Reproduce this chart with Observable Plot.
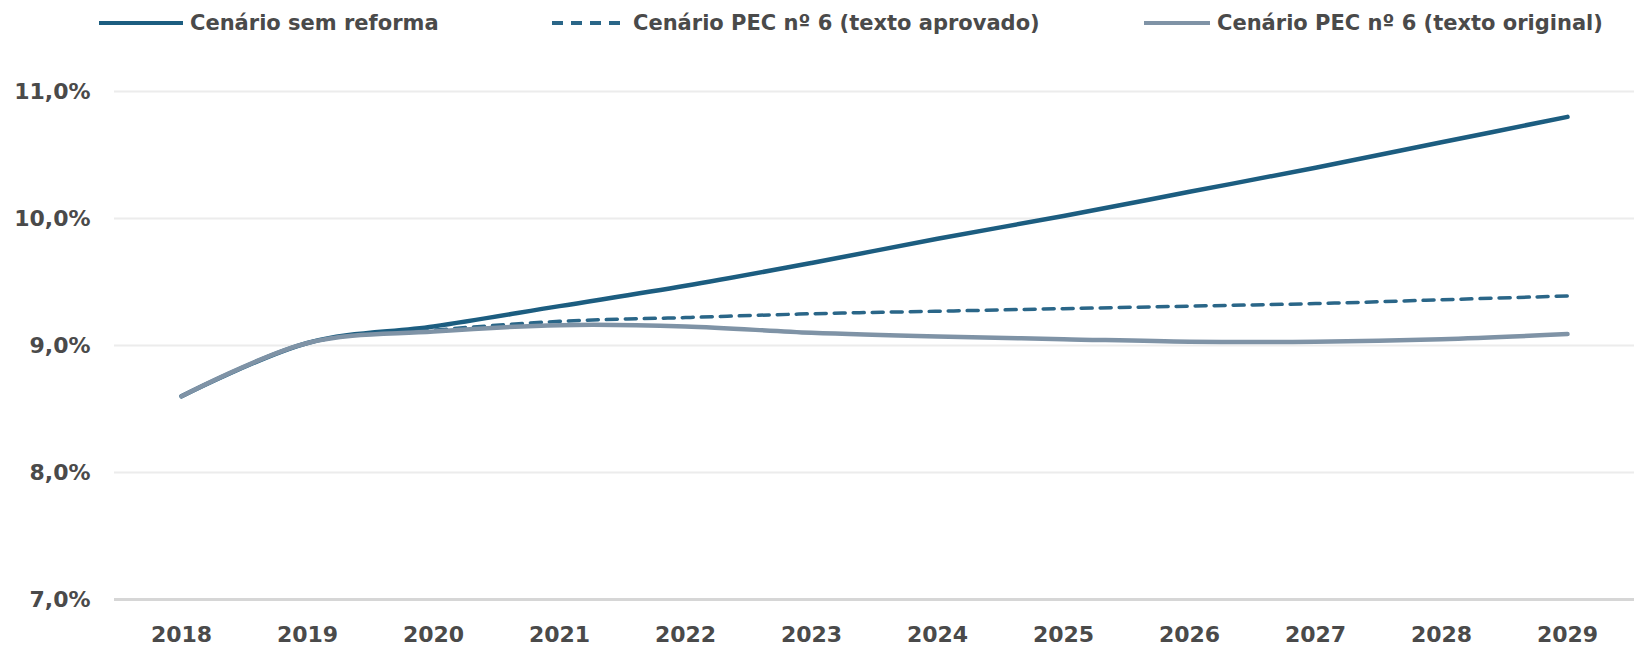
<!DOCTYPE html>
<html>
<head>
<meta charset="utf-8">
<script src="https://cdn.jsdelivr.net/npm/d3@7"></script>
<script src="https://cdn.jsdelivr.net/npm/@observablehq/plot@0.6"></script>
<style>
  html, body { margin: 0; padding: 0; background: #fff; }
  #wrap { width: 1634px; height: 649px; position: relative; overflow: hidden; }
  #legend { position: relative; height: 46px; width: 1634px; font-family: "DejaVu Sans", sans-serif; font-size: 21px; font-weight: bold; color: #4a4a4a; }
  .item { position: absolute; top: 11px; display: flex; align-items: center; white-space: nowrap; }
  .item svg { margin-right: 7px; }
</style>
</head>
<body>
<div id="wrap">
  <div id="legend"></div>
  <div id="chart"></div>
</div>
<script>
const years = ["2018","2019","2020","2021","2022","2023","2024","2025","2026","2027","2028","2029"];
const semReforma = [8.60, 9.02, 9.15, 9.31, 9.47, 9.65, 9.84, 10.02, 10.21, 10.40, 10.60, 10.80];
const pecAprovado = [8.60, 9.02, 9.12, 9.19, 9.22, 9.25, 9.27, 9.29, 9.31, 9.33, 9.36, 9.39];
const pecOriginal = [8.60, 9.02, 9.11, 9.16, 9.15, 9.10, 9.07, 9.05, 9.03, 9.03, 9.05, 9.09];
const yTicks = [7, 8, 9, 10, 11];
const seriesNames = ["Cenário sem reforma", "Cenário PEC nº 6 (texto aprovado)", "Cenário PEC nº 6 (texto original)"];

const colors = ["#1c5d80", "#2a6688", "#7f93a6"];
const dashes = [null, "11,8", null];
const legendLeft = [99, 552, 1144];
const legendLineW = [84, 74, 66];

const rows = (vals, s) => years.map((y, i) => ({year: y, value: vals[i], series: s}));
const dSem = rows(semReforma, seriesNames[0]);
const dAprov = rows(pecAprovado, seriesNames[1]);
const dOrig = rows(pecOriginal, seriesNames[2]);

// legend
const legend = document.getElementById("legend");
seriesNames.forEach((name, i) => {
  const item = document.createElement("div");
  item.className = "item";
  item.style.left = legendLeft[i] + "px";
  const w = legendLineW[i];
  item.innerHTML = `<svg width="${w}" height="10"><line x1="0" x2="${w}" y1="5" y2="5" stroke="${colors[i]}" stroke-width="4" ${dashes[i] ? `stroke-dasharray="${dashes[i]}"` : ""}/></svg><span>${name}</span>`;
  legend.appendChild(item);
});

const fmt = v => v.toFixed(1).replace(".", ",") + "%";

const chart = Plot.plot({
  width: 1634,
  height: 603,
  marginLeft: 114,
  marginRight: 0,
  marginTop: 45,
  marginBottom: 50,
  style: { fontFamily: "DejaVu Sans, sans-serif", fontSize: "22px", fontWeight: "bold", color: "#4a4a4a", background: "#fff" },
  x: { type: "point", domain: years, padding: 0.5, label: null },
  y: { domain: [7, 11], label: null },
  marks: [
    Plot.ruleY(yTicks.filter(t => t !== 7), { stroke: "#ececec", strokeWidth: 2 }),
    Plot.ruleY([7], { stroke: "#d6d6d6", strokeWidth: 3 }),
    Plot.axisY({ ticks: yTicks, tickSize: 0, tickPadding: 24, tickFormat: fmt, fontSize: 22 }),
    Plot.axisX({ tickSize: 0, tickPadding: 27, fontSize: 22 }),
    Plot.line(dSem, { x: "year", y: "value", stroke: colors[0], strokeWidth: 4.5, curve: "catmull-rom" }),
    Plot.line(dAprov, { x: "year", y: "value", stroke: colors[1], strokeWidth: 3.5, strokeDasharray: dashes[1], curve: "catmull-rom" }),
    Plot.line(dOrig, { x: "year", y: "value", stroke: colors[2], strokeWidth: 4.5, curve: "catmull-rom" })
  ]
});
document.getElementById("chart").appendChild(chart);
</script>
</body>
</html>
